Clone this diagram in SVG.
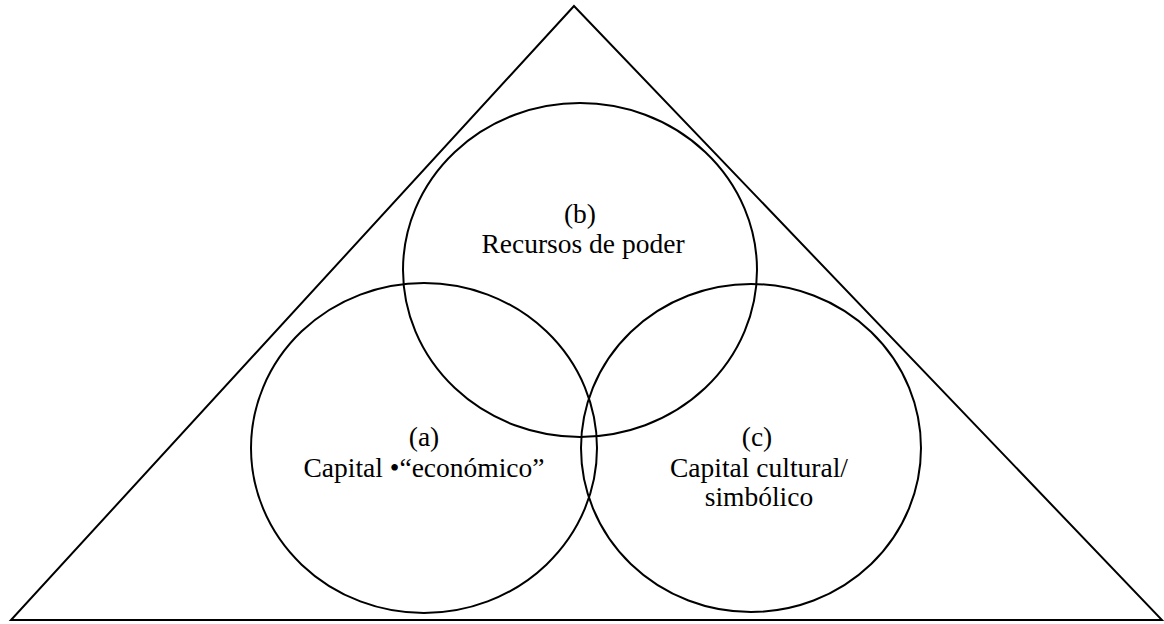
<svg xmlns="http://www.w3.org/2000/svg" width="1164" height="624" viewBox="0 0 1164 624">
<style>
.s{fill:none;stroke:#000;stroke-width:2}
.t{font-family:"Liberation Serif","Times New Roman",serif;font-size:27.5px;fill:#000;text-anchor:middle}
</style>
<rect width="1164" height="624" fill="#fff"/>
<g id="triangle"><polygon class="s" points="574,6 11,620 1162,620"/></g>
<g id="node-b">
<ellipse class="s" cx="580" cy="270" rx="177" ry="167"/>
<text class="t" x="580" y="223">(b)</text>
<text class="t" x="583" y="253">Recursos de poder</text>
</g>
<g id="node-a">
<ellipse class="s" cx="424" cy="448" rx="173" ry="165"/>
<text class="t" x="424" y="446">(a)</text>
<text class="t" x="424" y="477">Capital •“económico”</text>
</g>
<g id="node-c">
<ellipse class="s" cx="751" cy="448" rx="170" ry="164"/>
<text class="t" x="757" y="446">(c)</text>
<text class="t" x="759" y="477">Capital cultural/</text>
<text class="t" x="759" y="506">simbólico</text>
</g>
<g id="connectors"></g>
</svg>
